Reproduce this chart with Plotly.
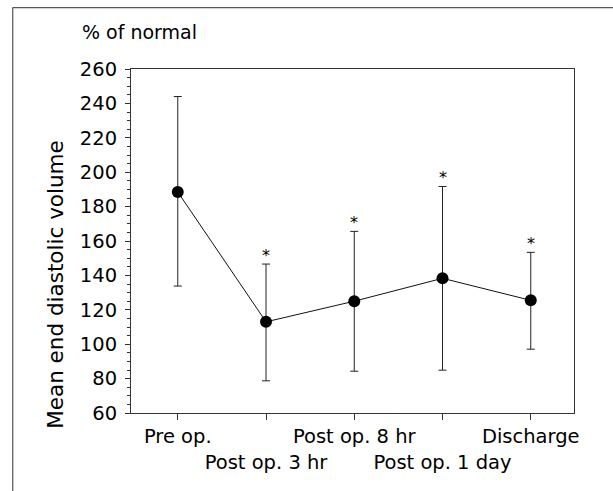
import plotly.graph_objects as go

categories = ["Pre op.", "Post op. 3 hr", "Post op. 8 hr", "Post op. 1 day", "Discharge"]
means = [188.5, 113, 125, 138.3, 125.5]
upper = [244, 146.6, 165.6, 191.7, 153.4]
lower = [133.8, 78.7, 84.3, 84.9, 97.1]
significant = [False, True, True, True, True]
y_ticks = [60, 80, 100, 120, 140, 160, 180, 200, 220, 240, 260]

xs = list(range(len(categories)))
err_plus = [u - m for u, m in zip(upper, means)]
err_minus = [m - l for m, l in zip(means, lower)]
ticktext = [c if i % 2 == 0 else "<br>" + c for i, c in enumerate(categories)]

FONT = "DejaVu Sans, Arial, sans-serif"

fig = go.Figure()
fig.add_trace(go.Scatter(
    x=xs, y=means, mode="lines+markers",
    line=dict(color="#111", width=1),
    marker=dict(color="black", size=12),
    error_y=dict(type="data", symmetric=False, array=err_plus, arrayminus=err_minus,
                 color="#222", thickness=1, width=4),
    showlegend=False, hoverinfo="skip",
))

annotations = []
for x, u, s in zip(xs, upper, significant):
    if s:
        annotations.append(dict(x=x, y=u, xref="x", yref="y", text="*", showarrow=False,
                                font=dict(size=16, color="black", family=FONT),
                                yanchor="middle", yshift=9))
annotations.append(dict(x=-0.114, y=1.108, xref="paper", yref="paper", text="% of normal",
                        showarrow=False, xanchor="left", yanchor="middle",
                        font=dict(size=19, color="black", family=FONT)))
annotations.append(dict(x=-0.172, y=0.375, xref="paper", yref="paper",
                        text="Mean end diastolic volume", textangle=-90, showarrow=False,
                        xanchor="center", yanchor="middle",
                        font=dict(size=21.5, color="black", family=FONT)))

fig.update_layout(
    width=613, height=491,
    margin=dict(l=131, r=39, t=69, b=77.5, pad=0, autoexpand=False),
    paper_bgcolor="white", plot_bgcolor="white",
    font=dict(family=FONT, size=19.5, color="black"),
    annotations=annotations,
    shapes=[
        dict(type="line", xref="paper", yref="paper", x0=-0.267, x1=-0.267, y0=-0.3, y1=1.1785,
             line=dict(color="#555", width=1.2)),
        dict(type="line", xref="paper", yref="paper", x0=-0.267, x1=1.2, y0=1.1785, y1=1.1785,
             line=dict(color="#555", width=1.2)),
    ],
    xaxis=dict(range=[-0.53, 4.49], tickvals=xs, ticktext=ticktext, tickangle=0,
               automargin=False,
               showgrid=False, zeroline=False, showline=True, linecolor="#333", linewidth=1,
               mirror=True, ticks="outside", ticklen=6, tickcolor="#333",
               tickfont=dict(size=19.5, family=FONT)),
    yaxis=dict(range=[60, 260], tickvals=y_ticks, showgrid=False, zeroline=False,
               automargin=False, ticklabelstandoff=4,
               showline=True, linecolor="#333", linewidth=1, mirror=True,
               ticks="outside", ticklen=5, tickcolor="#333",
               minor=dict(dtick=5, ticks="outside", ticklen=3, tickcolor="#333", showgrid=False),
               tickfont=dict(size=19.5, family=FONT)),
)

fig.write_html("out.html")
